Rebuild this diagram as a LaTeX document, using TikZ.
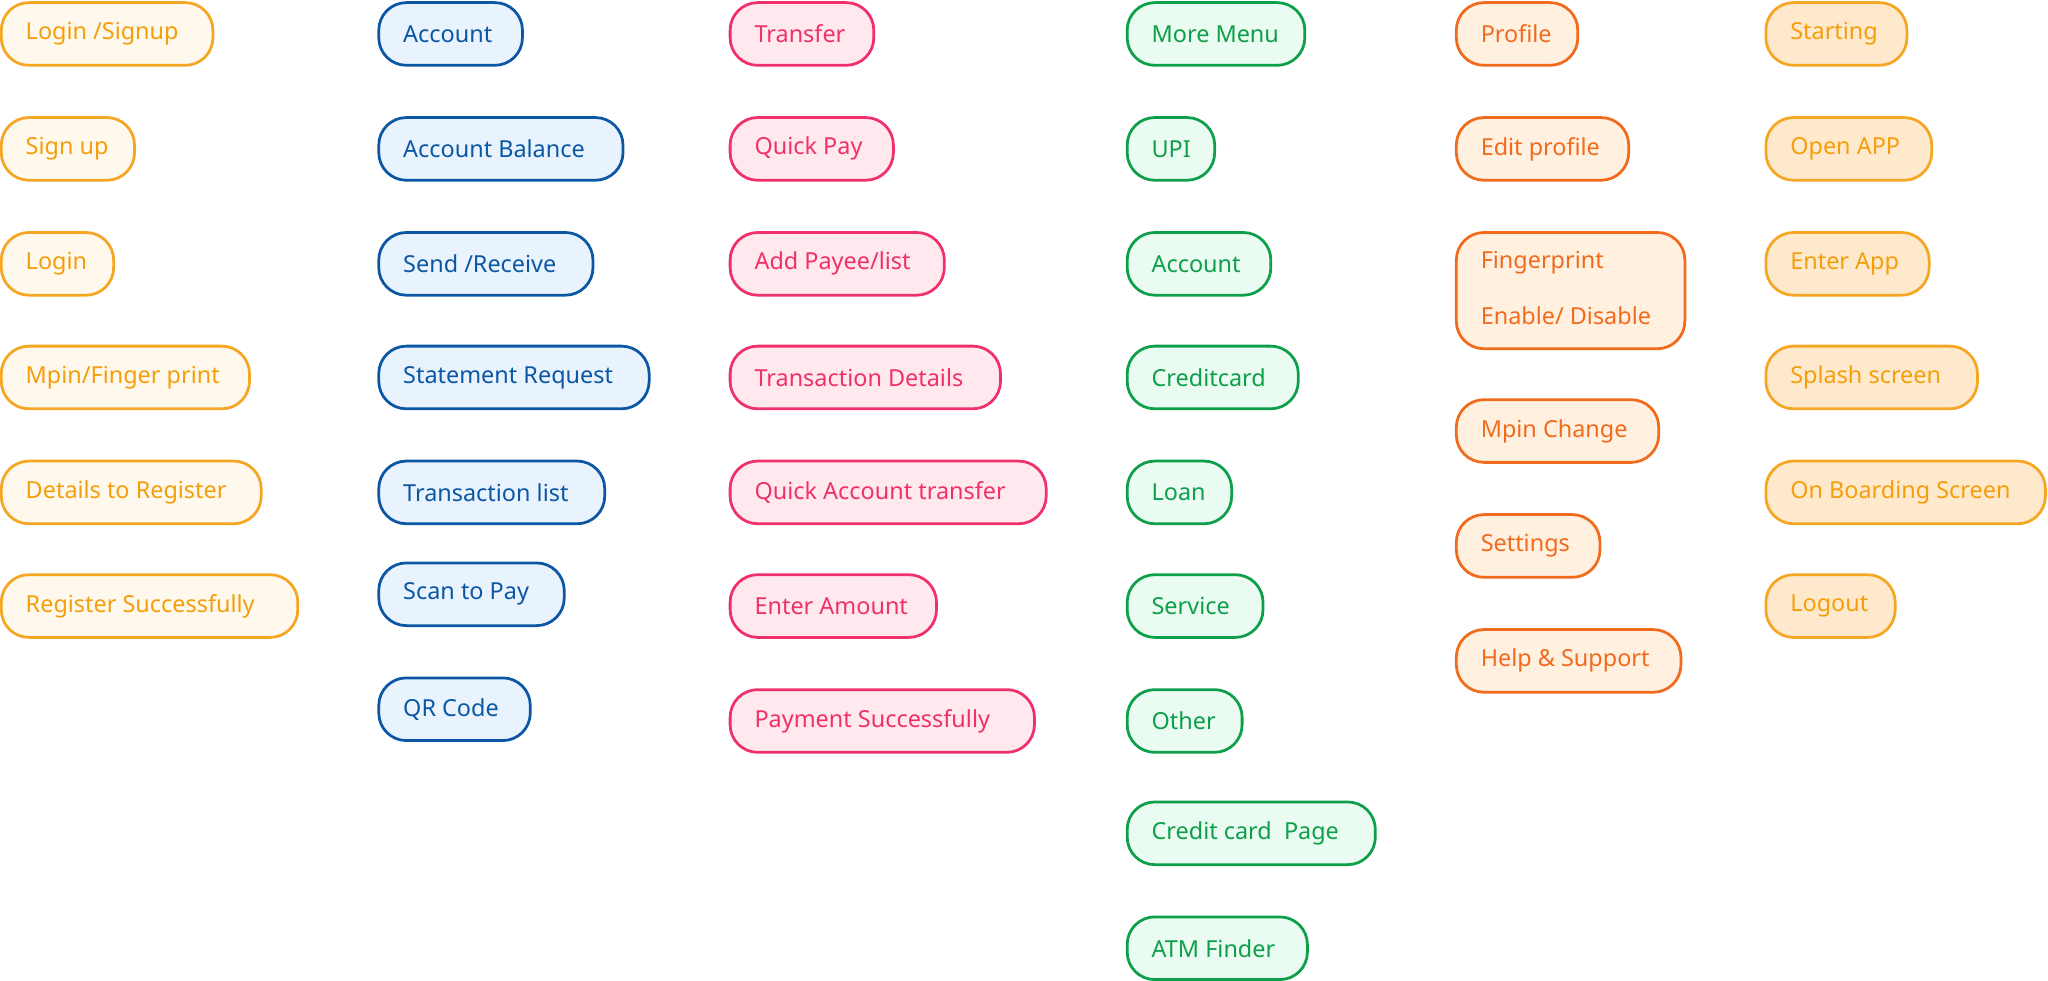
\documentclass[tikz,border=0pt]{standalone}
\usepackage{fontspec}
\setmainfont{Noto Sans}
\definecolor{yb}{HTML}{F5A623}\definecolor{yf}{HTML}{FFF8EC}\definecolor{yt}{HTML}{F59E0B}
\definecolor{bb}{HTML}{0B57A4}\definecolor{bf}{HTML}{E8F3FD}
\definecolor{pb}{HTML}{F0306A}\definecolor{pf}{HTML}{FFE9EF}
\definecolor{gb}{HTML}{0E9F4A}\definecolor{gf}{HTML}{EAFBF1}
\definecolor{ob}{HTML}{F26B1D}\definecolor{of}{HTML}{FFF0E0}
\definecolor{sf}{HTML}{FFE9CC}
\tikzset{
 cy/.style={draw=yb,fill=yf},ty/.style={text=yt},
 cb/.style={draw=bb,fill=bf},tb/.style={text=bb},
 cp/.style={draw=pb,fill=pf},tp/.style={text=pb},
 cg/.style={draw=gb,fill=gf},tg/.style={text=gb},
 co/.style={draw=ob,fill=of},to/.style={text=ob},
 cs/.style={draw=yb,fill=sf},ts/.style={text=yt},
 boxs/.style={line width=0.6pt,rounded corners=6},
 lbl/.style={anchor=west,inner sep=0pt,font=\fontsize{5.1}{6}\selectfont}
}
\newcommand{\bx}[8]{%
 \draw[boxs,c#6] (#2,#3) rectangle (#4,#5);
 \node[lbl,t#6] (#1) at ({#2+18},{(#3+#5)/2}) {#7#8};}
\begin{document}
\begin{tikzpicture}[x=0.01cm,y=-0.01cm]
\useasboundingbox (0,0) rectangle (1568,751);
\bx{a1}{1}{2}{163}{50}{y}{Login /Signup}{}
\bx{a2}{1}{90}{103}{138}{y}{Sign up}{}
\bx{a3}{1}{178}{87}{226}{y}{Login}{}
\bx{a4}{1}{265}{191}{313}{y}{Mpin/Finger print}{}
\bx{a5}{1}{353}{200}{401}{y}{Details to Register}{}
\bx{a6}{1}{440}{228}{488}{y}{Register Successfully}{}
\bx{b1}{290}{2}{400}{50}{b}{Account}{}
\bx{b2}{290}{90}{477}{138}{b}{Account Balance}{}
\bx{b3}{290}{178}{454}{226}{b}{Send /Receive}{}
\bx{b4}{290}{265}{497}{313}{b}{Statement Request}{}
\bx{b5}{290}{353}{463}{401}{b}{Transaction list}{}
\bx{b6}{290}{431}{432}{479}{b}{Scan to Pay}{}
\bx{b7}{290}{519}{406}{567}{b}{QR Code}{}
\bx{c1}{559}{2}{669}{50}{p}{Transfer}{}
\bx{c2}{559}{90}{684}{138}{p}{Quick Pay}{}
\bx{c3}{559}{178}{723}{226}{p}{Add Payee/list}{}
\bx{c4}{559}{265}{766}{313}{p}{Transaction Details}{}
\bx{c5}{559}{353}{801}{401}{p}{Quick Account transfer}{}
\bx{c6}{559}{440}{717}{488}{p}{Enter Amount}{}
\bx{c7}{559}{528}{792}{576}{p}{Payment Successfully}{}
\bx{d1}{863}{2}{999}{50}{g}{More Menu}{}
\bx{d2}{863}{90}{930}{138}{g}{UPI}{}
\bx{d3}{863}{178}{973}{226}{g}{Account}{}
\bx{d4}{863}{265}{994}{313}{g}{Creditcard}{}
\bx{d5}{863}{353}{943}{401}{g}{Loan}{}
\bx{d6}{863}{440}{967}{488}{g}{Service}{}
\bx{d7}{863}{528}{951}{576}{g}{Other}{}
\bx{d8}{863}{614}{1053}{662}{g}{Credit card\ \ Page}{}
\bx{d9}{863}{702}{1001}{750}{g}{ATM Finder}{}
\bx{e1}{1115}{2}{1208}{50}{o}{Profile}{}
\bx{e2}{1115}{90}{1247}{138}{o}{Edit profile}{}
\draw[boxs,co] (1115,178) rectangle (1290,267);
\node[lbl,to] (e3) at (1133,201) {Fingerprint};
\node[lbl,to] (e3b) at (1133,242) {Enable/ Disable};
\bx{e4}{1115}{306}{1270}{354}{o}{Mpin Change}{}
\bx{e5}{1115}{394}{1225}{442}{o}{Settings}{}
\bx{e6}{1115}{482}{1287}{530}{o}{Help \& Support}{}
\bx{f1}{1352}{2}{1460}{50}{s}{Starting}{}
\bx{f2}{1352}{90}{1479}{138}{s}{Open APP}{}
\bx{f3}{1352}{178}{1477}{226}{s}{Enter App}{}
\bx{f4}{1352}{265}{1514}{313}{s}{Splash screen}{}
\bx{f5}{1352}{353}{1566}{401}{s}{On Boarding Screen}{}
\bx{f6}{1352}{440}{1451}{488}{s}{Logout}{}
\end{tikzpicture}
\end{document}
